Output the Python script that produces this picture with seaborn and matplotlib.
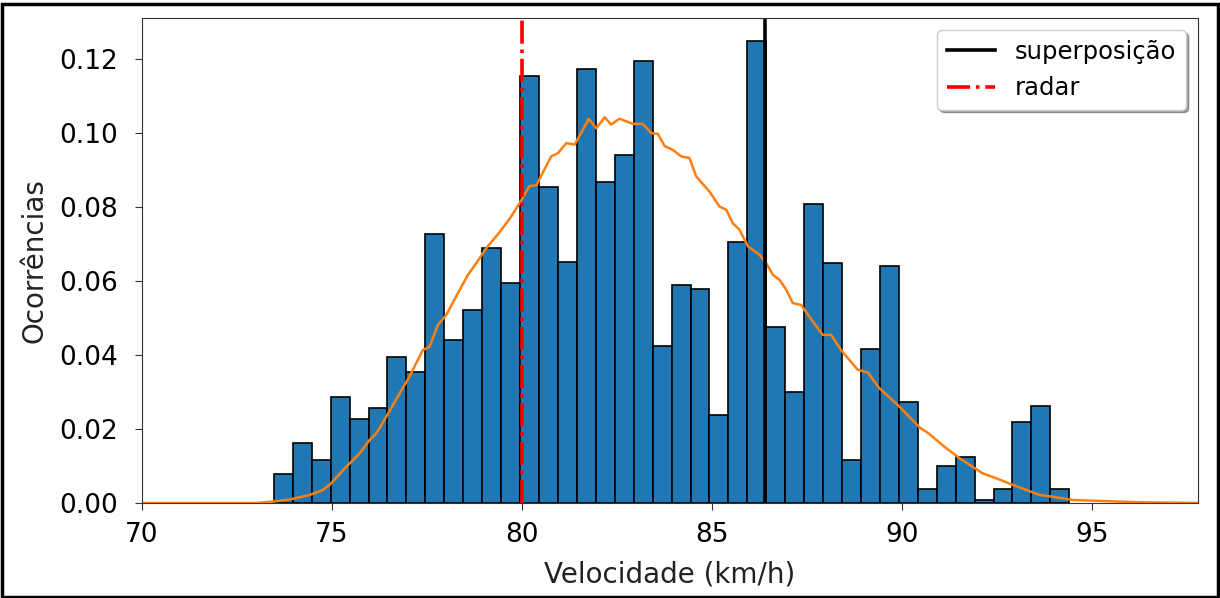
import numpy as np
import pandas as pd
import matplotlib
matplotlib.use('Agg')
import matplotlib.pyplot as plt
import seaborn as sns
from matplotlib.patches import Rectangle

# histogram (density per bin), 42 bins of ~0.5 km/h starting at 73.47
bin_start = 73.47
bin_width = 0.4986
bar_heights = [0.0078, 0.0163, 0.0116, 0.0285, 0.0226, 0.0256, 0.0394, 0.0353,
               0.0726, 0.0441, 0.0522, 0.0688, 0.0594, 0.1154, 0.0853, 0.0652,
               0.1171, 0.0866, 0.0941, 0.1195, 0.0423, 0.0589, 0.0577, 0.0238,
               0.0705, 0.1247, 0.0474, 0.0301, 0.0808, 0.0648, 0.0116, 0.0416,
               0.0641, 0.0272, 0.0037, 0.0100, 0.0123, 0.0008, 0.0037, 0.0220,
               0.0261, 0.0037]

# orange curve
curve_x = [70, 73.0, 73.47, 73.91, 74.42, 74.76, 74.94, 75.38, 75.73, 75.99,
           76.17, 76.43, 76.78, 77.04, 77.39, 77.57, 77.79, 78.01, 78.27, 78.58,
           78.80, 79.06, 79.41, 79.72, 79.94, 80.2, 80.38, 80.77, 80.95, 81.17,
           81.39, 81.76, 81.96, 82.18, 82.35, 82.57, 82.92, 83.18, 83.41, 83.58,
           83.76, 83.97, 84.20, 84.41, 84.59, 84.94, 85.20, 85.38, 85.55, 85.73,
           85.95, 86.26, 86.43, 86.61, 86.78, 86.96, 87.13, 87.35, 87.66, 87.92,
           88.14, 88.41, 88.84, 89.11, 89.41, 89.89, 90.47, 90.68, 91.17, 91.52,
           92.13, 92.48, 92.92, 93.62, 94.15, 94.5, 95.38, 96.25, 97.8]
curve_y = [0, 0, 0.0004, 0.001, 0.0022, 0.0035, 0.0049, 0.0098, 0.0134, 0.017,
           0.0188, 0.0233, 0.0296, 0.0341, 0.0413, 0.0422, 0.0481, 0.0508, 0.0558, 0.0616,
           0.0648, 0.0688, 0.0731, 0.0774, 0.081, 0.0856, 0.0858, 0.0936, 0.0945, 0.0972,
           0.0968, 0.1037, 0.1012, 0.1042, 0.1022, 0.1038, 0.1024, 0.1024, 0.0999, 0.0997,
           0.0964, 0.0954, 0.0936, 0.0932, 0.0882, 0.0841, 0.0801, 0.0792, 0.0756, 0.0738,
           0.0693, 0.067, 0.0648, 0.0616, 0.0603, 0.0576, 0.054, 0.0535, 0.049, 0.0454,
           0.0454, 0.0412, 0.036, 0.0352, 0.031, 0.0265, 0.0204, 0.019, 0.0148, 0.0121,
           0.008, 0.0067, 0.0049, 0.0022, 0.0014, 0.0008, 0.0005, 0.0002, 0.0]

v_superposicao = 86.4
v_radar = 80.0

edges = bin_start + bin_width * np.arange(len(bar_heights) + 1)
hist_df = pd.DataFrame({'vel': (edges[:-1] + edges[1:]) / 2, 'dens': bar_heights})

fig = plt.figure(figsize=(12.2, 5.98), dpi=100)
ax = fig.add_axes([0.1164, 0.1589, 0.8656, 0.811])

sns.histplot(data=hist_df, x='vel', weights='dens', bins=edges.tolist(),
             stat='count', color='#1f77b4', alpha=1, edgecolor='black',
             linewidth=1.2, ax=ax)
sns.lineplot(x=curve_x, y=curve_y, color='#ff7f0e', linewidth=1.8, ax=ax)

l1 = ax.axvline(v_superposicao, color='black', linewidth=2.6, label='superposição')
l2 = ax.axvline(v_radar, color='red', linestyle='-.', linewidth=2.6, label='radar')

ax.set_xlim(70, 97.8)
ax.set_ylim(0, 0.131)
ax.set_xticks([70, 75, 80, 85, 90, 95])
ax.set_yticks([0, 0.02, 0.04, 0.06, 0.08, 0.10, 0.12])
ax.set_yticklabels(['0.00', '0.02', '0.04', '0.06', '0.08', '0.10', '0.12'])
ax.tick_params(labelsize=19, length=5, color='#333333')
ax.tick_params(axis='x', pad=9)
ax.tick_params(axis='y', pad=12)
for s in ax.spines.values():
    s.set_color('#333333')
ax.set_xlabel('Velocidade (km/h)', fontsize=20, color='#222222', labelpad=9)
ax.set_ylabel('Ocorrências', fontsize=20, color='#222222', labelpad=8)
ax.legend(handles=[l1, l2], loc='upper right', shadow=True, fontsize=17.5)

# screenshot frame
fig.add_artist(Rectangle((0.002, 0.002), 0.996, 0.991, transform=fig.transFigure,
                         fill=False, edgecolor='black', linewidth=2.5))

plt.savefig('out.png', dpi=100)
plt.close()
